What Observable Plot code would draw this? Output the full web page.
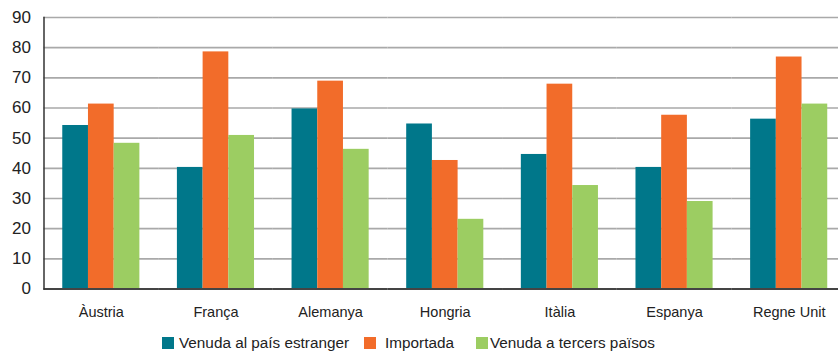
<!DOCTYPE html>
<html>
<head>
<meta charset="utf-8">
<script src="https://cdn.jsdelivr.net/npm/d3@7"></script>
<script src="https://cdn.jsdelivr.net/npm/@observablehq/plot@0.6"></script>
<style>
  html, body { margin: 0; padding: 0; background: #fff; }
  body { font-family: "Liberation Sans", Arial, Helvetica, sans-serif; color: #222; width: 838px; }
  #chart svg { display: block; overflow: hidden; }
  #legend { position: relative; height: 28px; }
  #legend .items { position: absolute; left: 162px; top: 4px; display: flex; align-items: center; font-size: 15.3px; color: #222; white-space: nowrap; }
  #legend .sw { width: 12px; height: 12px; display: inline-block; }
</style>
</head>
<body>
<div id="chart"></div>
<div id="legend"><div class="items"></div></div>
<script>
// Countries along the horizontal axis
const countries = ["Àustria", "França", "Alemanya", "Hongria", "Itàlia", "Espanya", "Regne Unit"];

// Series names and colours
const seriesNames = ["Venuda al país estranger", "Importada", "Venuda a tercers països"];
const seriesColors = ["#00778a", "#f26c2a", "#9ccd62"];

// Values per country (percentages)
const venudaPaisEstranger = [54.2, 40.3, 59.7, 54.7, 44.6, 40.3, 56.3];
const importada          = [61.3, 78.6, 68.9, 42.6, 67.9, 57.6, 76.9];
const venudaTercers      = [48.3, 50.9, 46.3, 23.1, 34.3, 29.0, 61.3];

// Y axis ticks
const yTicks = [0, 10, 20, 30, 40, 50, 60, 70, 80, 90];

const seriesValues = [venudaPaisEstranger, importada, venudaTercers];
const rows = countries.flatMap((country, i) =>
  seriesNames.map((serie, s) => ({country, serie, value: seriesValues[s][i]}))
);

const chart = Plot.plot({
  width: 838,
  height: 330,
  marginTop: 17,
  marginBottom: 41.5,
  marginLeft: 43.5,
  marginRight: -8,
  style: {fontFamily: "'Liberation Sans', Arial, Helvetica, sans-serif", color: "#222", background: "#fff"},
  fx: {domain: countries, paddingInner: 0, paddingOuter: 0, round: false, label: null},
  x: {domain: seriesNames, paddingInner: 0, paddingOuter: 0.73, align: 0.5, round: false, axis: null},
  y: {domain: [0, 90], label: null},
  color: {domain: seriesNames, range: seriesColors},
  marks: [
    Plot.gridY(yTicks, {stroke: "#a9a9a9", strokeOpacity: 1, strokeWidth: 1.6}),
    Plot.barY(rows, {fx: "country", x: "serie", y: "value", fill: "serie", inset: 0}),
    Plot.ruleY([0], {stroke: "#444", strokeWidth: 2}),
    Plot.frame({anchor: "left", facetAnchor: "left", stroke: "#333", strokeWidth: 1.5}),
    Plot.axisY(yTicks, {tickSize: 0, tickPadding: 13, fontSize: 17, label: null, tickFormat: d => String(d)}),
    Plot.axisFx({anchor: "bottom", tickSize: 0, tickPadding: 18, fontSize: 14.5, label: null})
  ]
});
document.getElementById("chart").appendChild(chart);

// Legend below the chart
const items = d3.select("#legend .items");
const swatchGap = [5, 9, 2];
const itemGap = [0, 15, 22];
seriesNames.forEach((name, i) => {
  items.append("span").attr("class", "sw")
    .style("background", seriesColors[i])
    .style("margin-left", itemGap[i] + "px")
    .style("margin-right", swatchGap[i] + "px");
  items.append("span").text(name);
});
</script>
</body>
</html>
